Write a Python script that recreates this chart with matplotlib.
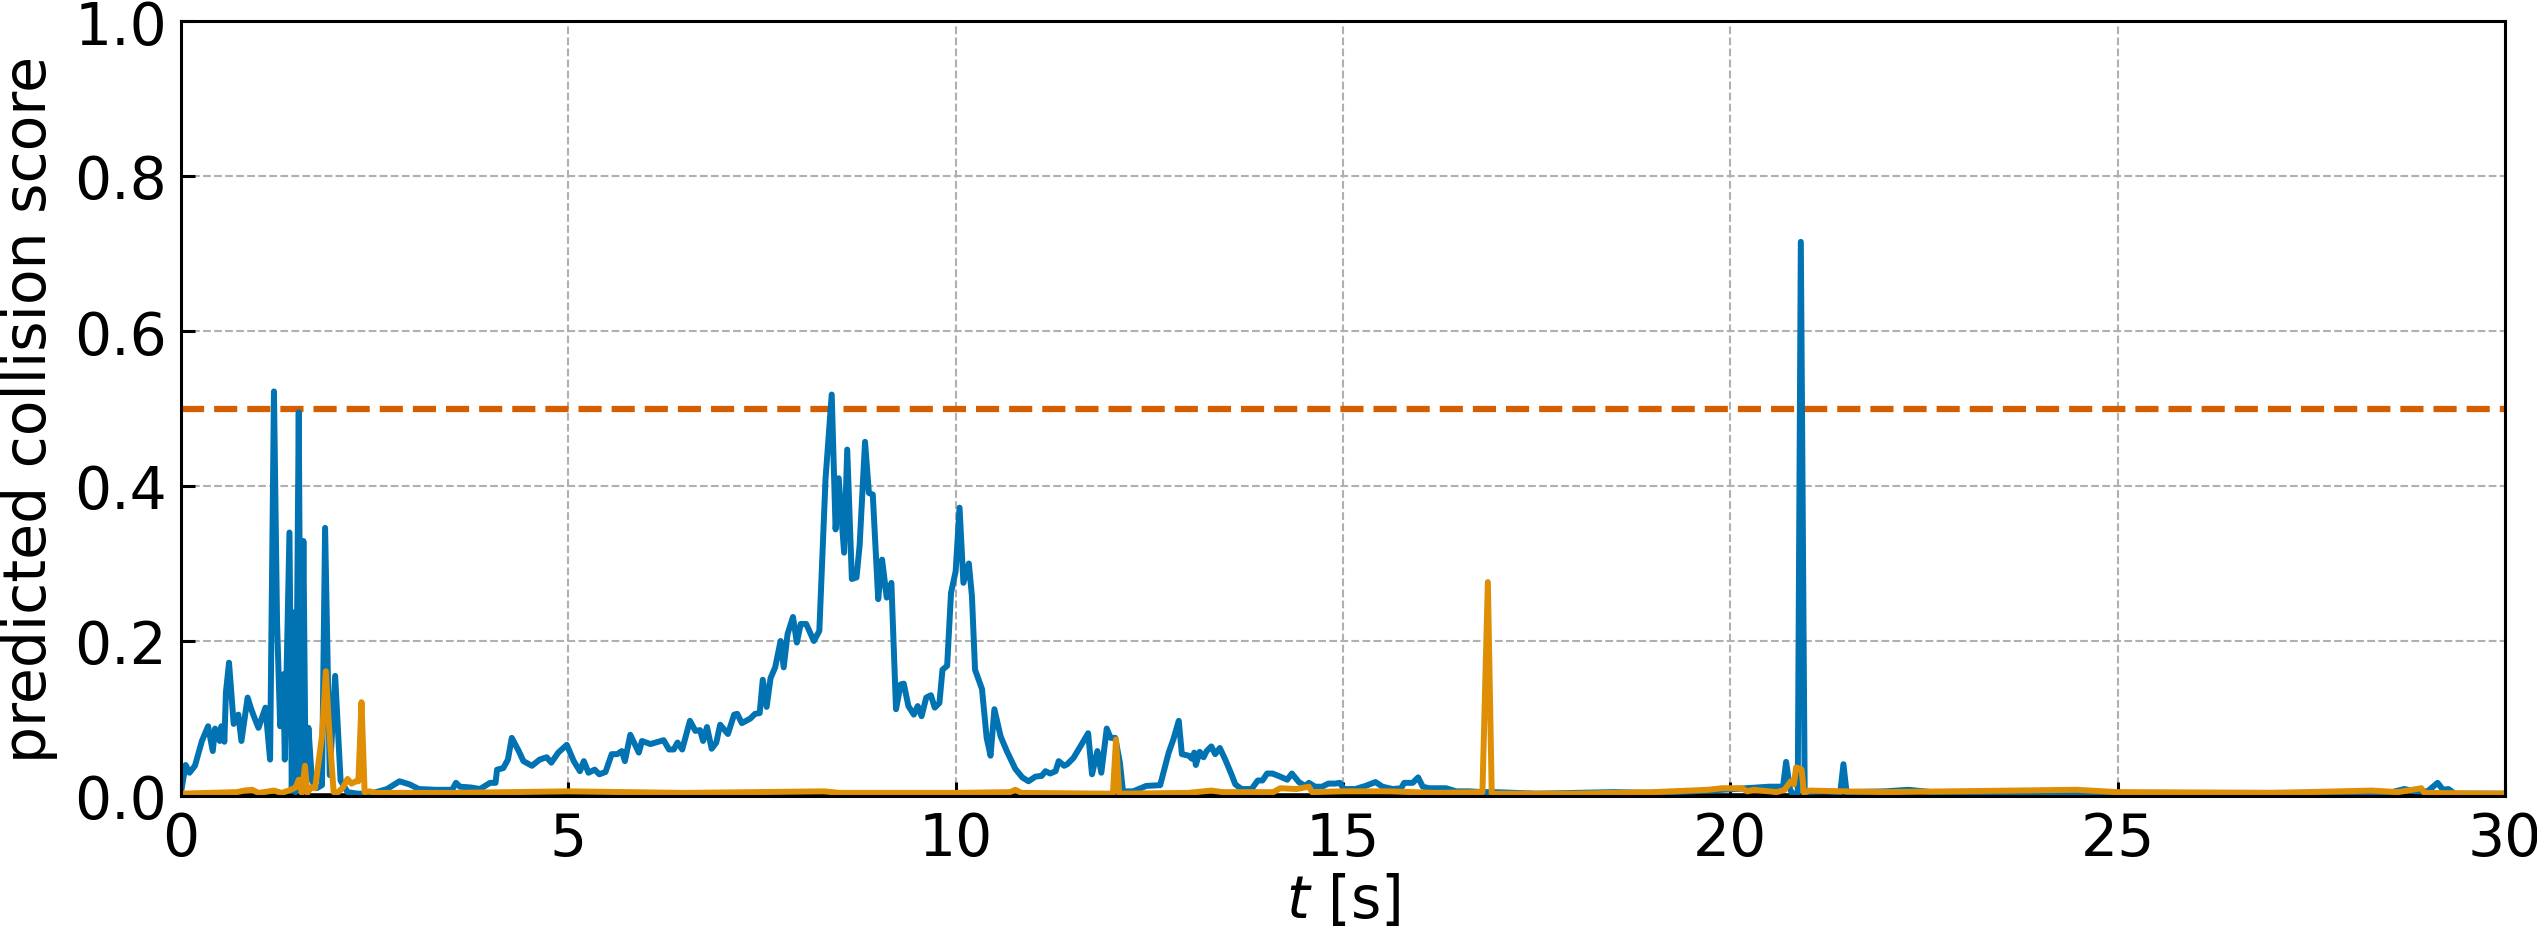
import matplotlib
matplotlib.use("Agg")
import matplotlib.pyplot as plt
import numpy as np

# ---- data ----
blue_t = [
    0.00, 0.06, 0.11, 0.18, 0.27, 0.35, 0.41, 0.44, 0.50, 0.52,
    0.56, 0.58, 0.62, 0.68, 0.74, 0.78, 0.86, 0.90, 0.94, 1.00,
    1.09, 1.15, 1.20, 1.24, 1.28, 1.32, 1.34, 1.40, 1.43, 1.46,
    1.48, 1.52, 1.55, 1.58, 1.61, 1.645, 1.69, 1.75, 1.82, 1.86,
    1.92, 1.99, 2.06, 2.15, 2.28, 2.45, 2.66, 2.82, 2.95, 3.07,
    3.29, 3.50, 3.55, 3.60, 3.74, 3.86, 3.99, 4.06, 4.08, 4.16,
    4.22, 4.27, 4.36, 4.42, 4.53, 4.63, 4.72, 4.78, 4.87, 4.98,
    5.07, 5.15, 5.20, 5.26, 5.34, 5.40, 5.48, 5.56, 5.63, 5.69,
    5.73, 5.80, 5.91, 5.95, 6.06, 6.23, 6.30, 6.36, 6.41, 6.47,
    6.57, 6.64, 6.70, 6.74, 6.79, 6.85, 6.91, 6.96, 7.06, 7.14,
    7.18, 7.24, 7.35, 7.41, 7.47, 7.51, 7.56, 7.61, 7.67, 7.74,
    7.78, 7.83, 7.90, 7.95, 8.00, 8.07, 8.17, 8.24, 8.32, 8.40,
    8.45, 8.49, 8.56, 8.60, 8.66, 8.72, 8.76, 8.83, 8.88, 8.93,
    9.00, 9.05, 9.11, 9.17, 9.23, 9.29, 9.33, 9.39, 9.46, 9.51,
    9.56, 9.62, 9.68, 9.73, 9.79, 9.83, 9.89, 9.94, 10.00, 10.05,
    10.10, 10.17, 10.21, 10.25, 10.34, 10.40, 10.45, 10.50, 10.58, 10.66,
    10.77, 10.86, 10.94, 11.03, 11.11, 11.16, 11.22, 11.29, 11.33, 11.40,
    11.44, 11.52, 11.61, 11.71, 11.76, 11.83, 11.88, 11.95, 12.00, 12.06,
    12.12, 12.16, 12.29, 12.46, 12.64, 12.75, 12.81, 12.88, 12.92, 13.01,
    13.05, 13.08, 13.10, 13.15, 13.20, 13.24, 13.30, 13.35, 13.41, 13.48,
    13.56, 13.61, 13.69, 13.82, 13.90, 13.96, 14.02, 14.09, 14.19, 14.28,
    14.34, 14.43, 14.51, 14.56, 14.64, 14.73, 14.81, 14.90, 14.96, 15.01,
    15.16, 15.29, 15.42, 15.51, 15.64, 15.75, 15.79, 15.90, 15.97, 16.03,
    16.11, 16.33, 16.46, 16.63, 16.81, 16.96, 17.50, 18.00, 18.50, 19.00,
    19.50, 19.90, 20.20, 20.50, 20.68, 20.72, 20.77, 20.80, 20.87, 20.91,
    20.96, 21.20, 21.42, 21.46, 21.50, 22.00, 22.30, 22.60, 23.00, 25.00,
    28.50, 28.70, 28.85, 29.00, 29.13, 29.20, 29.27, 29.35, 30.00,
]
blue_y = [
    0.005, 0.040, 0.030, 0.039, 0.071, 0.090, 0.058, 0.087, 0.071, 0.090,
    0.070, 0.134, 0.172, 0.093, 0.105, 0.071, 0.127, 0.114, 0.103, 0.088,
    0.114, 0.047, 0.522, 0.224, 0.090, 0.157, 0.047, 0.340, 0.007, 0.237,
    0.005, 0.495, 0.007, 0.329, 0.010, 0.088, 0.020, 0.010, 0.014, 0.346,
    0.027, 0.155, 0.020, 0.005, 0.003, 0.003, 0.009, 0.019, 0.015, 0.009,
    0.008, 0.008, 0.017, 0.012, 0.011, 0.009, 0.017, 0.017, 0.034, 0.036,
    0.047, 0.075, 0.058, 0.045, 0.039, 0.047, 0.050, 0.043, 0.056, 0.066,
    0.045, 0.032, 0.045, 0.030, 0.034, 0.028, 0.031, 0.054, 0.054, 0.058,
    0.045, 0.079, 0.056, 0.071, 0.067, 0.072, 0.060, 0.060, 0.069, 0.060,
    0.097, 0.084, 0.085, 0.071, 0.089, 0.061, 0.069, 0.092, 0.080, 0.105,
    0.106, 0.094, 0.100, 0.106, 0.107, 0.150, 0.115, 0.152, 0.166, 0.200,
    0.166, 0.209, 0.231, 0.198, 0.222, 0.222, 0.200, 0.213, 0.409, 0.518,
    0.344, 0.410, 0.314, 0.447, 0.280, 0.282, 0.323, 0.457, 0.391, 0.389,
    0.254, 0.305, 0.256, 0.275, 0.112, 0.144, 0.145, 0.116, 0.105, 0.116,
    0.103, 0.127, 0.130, 0.114, 0.120, 0.163, 0.168, 0.262, 0.290, 0.372,
    0.275, 0.300, 0.258, 0.163, 0.138, 0.075, 0.052, 0.112, 0.077, 0.058,
    0.035, 0.024, 0.019, 0.025, 0.026, 0.032, 0.029, 0.032, 0.045, 0.039,
    0.041, 0.049, 0.064, 0.081, 0.028, 0.058, 0.030, 0.087, 0.075, 0.075,
    0.043, 0.006, 0.006, 0.013, 0.014, 0.056, 0.073, 0.097, 0.054, 0.052,
    0.048, 0.056, 0.040, 0.057, 0.050, 0.058, 0.064, 0.054, 0.062, 0.047,
    0.028, 0.015, 0.009, 0.009, 0.020, 0.020, 0.029, 0.029, 0.025, 0.021,
    0.029, 0.018, 0.013, 0.017, 0.012, 0.012, 0.016, 0.016, 0.017, 0.009,
    0.009, 0.013, 0.018, 0.012, 0.009, 0.010, 0.017, 0.017, 0.024, 0.012,
    0.010, 0.010, 0.006, 0.006, 0.005, 0.005, 0.003, 0.004, 0.005, 0.004,
    0.006, 0.008, 0.010, 0.012, 0.012, 0.044, 0.009, 0.003, 0.003, 0.715,
    0.005, 0.006, 0.005, 0.041, 0.005, 0.006, 0.008, 0.005, 0.004, 0.004,
    0.004, 0.009, 0.006, 0.006, 0.017, 0.008, 0.009, 0.003, 0.003,
]

orange_t = [
    0.00, 0.72, 0.82, 0.92, 1.00, 1.20, 1.30, 1.39, 1.48, 1.52,
    1.56, 1.60, 1.63, 1.68, 1.73, 1.76, 1.82, 1.87, 1.91, 1.97,
    2.03, 2.09, 2.15, 2.20, 2.26, 2.29, 2.33, 2.37, 2.43, 2.52,
    3.50, 5.00, 6.50, 8.30, 8.50, 10.00, 10.70, 10.77, 10.85, 12.03,
    12.07, 12.11, 13.00, 13.30, 13.45, 14.10, 14.19, 14.40, 14.56, 14.60,
    15.00, 15.60, 16.20, 16.80, 16.87, 16.92, 18.00, 19.00, 19.71, 19.89,
    20.15, 20.22, 20.30, 20.60, 20.70, 20.78, 20.82, 20.85, 20.92, 20.95,
    21.02, 21.45, 22.00, 24.47, 25.00, 27.00, 28.28, 28.62, 28.92, 28.96,
    30.00,
]
orange_y = [
    0.003, 0.005, 0.007, 0.008, 0.004, 0.007, 0.004, 0.007, 0.011, 0.021,
    0.004, 0.039, 0.004, 0.011, 0.010, 0.032, 0.077, 0.161, 0.090, 0.005,
    0.005, 0.011, 0.022, 0.016, 0.019, 0.019, 0.121, 0.005, 0.006, 0.004,
    0.004, 0.006, 0.004, 0.006, 0.004, 0.004, 0.005, 0.008, 0.004, 0.003,
    0.073, 0.003, 0.004, 0.007, 0.005, 0.005, 0.010, 0.009, 0.012, 0.005,
    0.006, 0.006, 0.004, 0.005, 0.276, 0.003, 0.003, 0.005, 0.008, 0.010,
    0.010, 0.006, 0.008, 0.005, 0.008, 0.019, 0.015, 0.037, 0.034, 0.004,
    0.007, 0.006, 0.005, 0.008, 0.005, 0.004, 0.007, 0.005, 0.010, 0.004,
    0.003,
]

truth_t = [0.0, 30.0]
truth_y = [0.0, 0.0]

threshold = 0.5
x_ticks = [0, 5, 10, 15, 20, 25, 30]
y_ticks = [0.0, 0.2, 0.4, 0.6, 0.8, 1.0]

# ---- plot ----
plt.rcParams['font.family'] = ['DejaVu Sans']
plt.rcParams['mathtext.fontset'] = 'dejavusans'

fig = plt.figure(figsize=(25.37, 9.37), dpi=100)
ax = fig.add_axes([181 / 2537, 140 / 937, (2505 - 181) / 2537, (797 - 22) / 937])

ax.set_axisbelow(True)
ax.grid(True, linestyle='--', color='#b0b0b0', linewidth=1.5)

ax.axhline(threshold, color='#D55E00', linestyle='--', linewidth=4.5, zorder=1.8)
ax.plot(truth_t, truth_y, color='black', linewidth=4.0, zorder=1.9)
ax.plot(blue_t, blue_y, color='#0173B2', linewidth=4.3, zorder=2.0)
ax.plot(orange_t, orange_y, color='#DE8F05', linewidth=4.3, zorder=2.1)

ax.set_xlim(0, 30)
ax.set_ylim(0, 1)
ax.set_xticks(x_ticks)
ax.set_xticklabels([str(v) for v in x_ticks])
ax.set_yticks(y_ticks)
ax.set_yticklabels([f"{v:.1f}" for v in y_ticks])

ax.tick_params(direction='in', length=10, width=2.2, labelsize=42, pad=10)
for sp in ax.spines.values():
    sp.set_linewidth(2.2)

ax.set_xlabel(r'$t$ [s]', fontsize=42, labelpad=4)
ax.set_ylabel('predicted collision score', fontsize=42, labelpad=12)

fig.savefig('out.png', dpi=100)
